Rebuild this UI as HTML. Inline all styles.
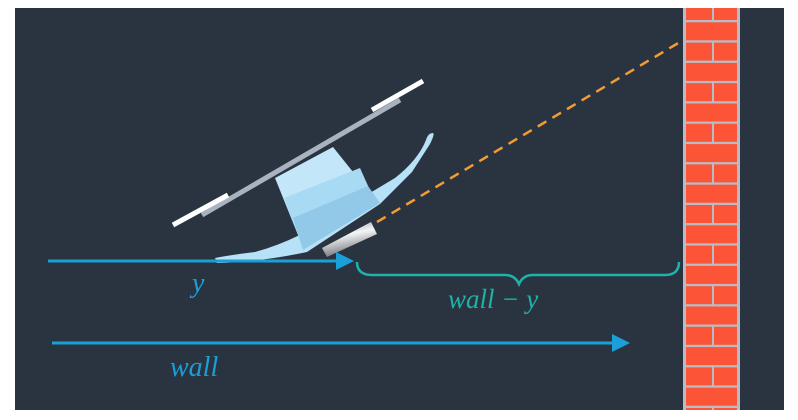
<!DOCTYPE html>
<html><head><meta charset="utf-8"><style>
html,body{margin:0;padding:0;background:#fff;}
svg{display:block;}
text{font-family:"Liberation Serif",serif;font-style:italic;}
</style></head><body>
<svg id="s" width="798" height="420" viewBox="0 0 798 420">
<defs>
<clipPath id="cp"><rect x="15" y="8" width="769" height="402"/></clipPath>
<linearGradient id="cam" x1="0" y1="0" x2="0.3" y2="1">
<stop offset="0" stop-color="#8d9096"/><stop offset="0.45" stop-color="#f4f5f6"/><stop offset="1" stop-color="#6f7278"/>
</linearGradient>
</defs>
<rect x="15" y="8" width="769" height="402" fill="#293440"/>
<g id="wall" clip-path="url(#cp)">
<rect x="683" y="0" width="57" height="420" fill="#b9bcc4"/>
</g>
<line x1="377" y1="222" x2="680" y2="42" stroke="#f39c34" stroke-width="2.5" stroke-dasharray="10,7"/>
<g>
<path d="M217,263 Q260,262 307,252 L380,204 L412,172 L430,144 Q435,134 433,133 Q428,133 426,140 Q418,160 395,178 L350,205 Q300,240 255,252 Q230,255 215,258 Z" fill="#b7e1f6"/>
<polygon points="275,178 333,147 373,197 300,240" fill="#c3e6f8"/>
<polygon points="284,198 360,168 373,197 300,240" fill="#a8daf3"/>
<polygon points="293,218 368,186 380,203 303,250" fill="#92c8e8"/>
<polygon points="322,248 371,222 377,234 327,257" fill="url(#cam)"/>
<line x1="202" y1="215" x2="400" y2="100" stroke="#a9b3bf" stroke-width="5"/>
<line x1="173" y1="225" x2="228" y2="195" stroke="#fff" stroke-width="5"/>
<line x1="372" y1="110" x2="423" y2="81" stroke="#fff" stroke-width="5"/>
</g>
<g fill="#1a9fd8" stroke="#1a9fd8">
<line x1="48" y1="261" x2="340" y2="261" stroke-width="3"/>
<polygon points="336,252 354,261 336,270" stroke="none"/>
<line x1="52" y1="343" x2="615" y2="343" stroke-width="3"/>
<polygon points="612,334 630,343 612,352" stroke="none"/>
</g>
<text x="192" y="292" font-size="28" fill="#1a9fd8">y</text>
<text x="170" y="376" font-size="28" fill="#1a9fd8">wall</text>
<path d="M357,262 Q357,275 372,275 L505,275 Q515,275 519,284 Q523,275 533,275 L665,275 Q679,275 679,262" fill="none" stroke="#1eb3a8" stroke-width="2.5"/>
<text x="448" y="308" font-size="27" fill="#1eb3a8">wall − y</text>
</svg>
<script>
var s=document.getElementById('wall');
var ns='http://www.w3.org/2000/svg';
for(var r=0;r<21;r++){
  var y=2+r*20.3;
  var xs=(r%2==0)?[[686,712],[714,737]]:[[686,737]];
  for(var i=0;i<xs.length;i++){
    var b=document.createElementNS(ns,'rect');
    b.setAttribute('x',xs[i][0]);b.setAttribute('y',y);
    b.setAttribute('width',xs[i][1]-xs[i][0]);b.setAttribute('height',18);
    b.setAttribute('fill','#fb5436');
    
    
    s.appendChild(b);
  }
}
</script>
</body></html>
